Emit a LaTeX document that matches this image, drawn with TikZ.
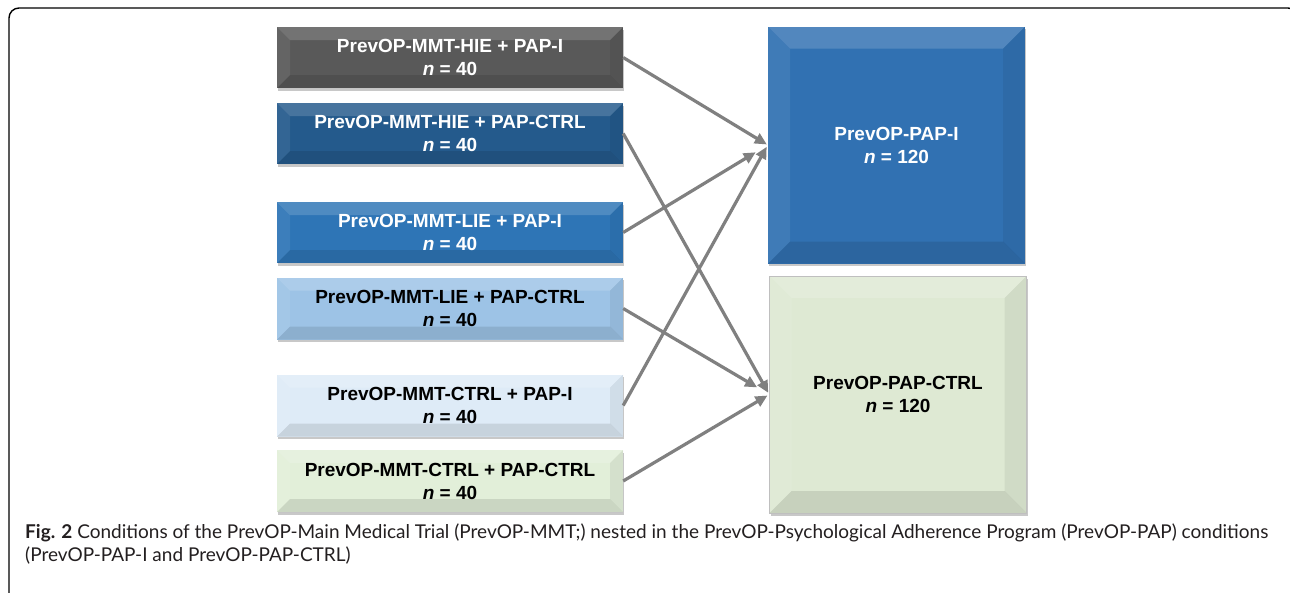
\documentclass[tikz,border=0pt]{standalone}
\usepackage{fontspec}
\setmainfont{Liberation Sans}
\newfontfamily\capfont{Lato}
\usetikzlibrary{arrows.meta,shadows}
\definecolor{cGray}{HTML}{595959}
\definecolor{cDark}{HTML}{245A8C}
\definecolor{cMid}{HTML}{2E75B6}
\definecolor{cLight}{HTML}{9DC3E6}
\definecolor{cPale}{HTML}{DEEBF7}
\definecolor{cGreen}{HTML}{E2EFD9}
\definecolor{cBig}{HTML}{3171B2}
\definecolor{cBigG}{HTML}{DEE9D3}
\definecolor{cArrow}{HTML}{808080}
\definecolor{cCap}{HTML}{231F20}
\tikzset{
  bevel/.style={path picture={
    \fill[white,opacity=.16] (path picture bounding box.north west) -- (path picture bounding box.north east)
      -- ([shift={(-#1,-#1)}]path picture bounding box.north east) -- ([shift={(#1,-#1)}]path picture bounding box.north west) -- cycle;
    \fill[white,opacity=.07] (path picture bounding box.north west) -- ([shift={(#1,-#1)}]path picture bounding box.north west)
      -- ([shift={(#1,#1)}]path picture bounding box.south west) -- (path picture bounding box.south west) -- cycle;
    \fill[black,opacity=.06] (path picture bounding box.north east) -- ([shift={(-#1,-#1)}]path picture bounding box.north east)
      -- ([shift={(-#1,#1)}]path picture bounding box.south east) -- (path picture bounding box.south east) -- cycle;
    \fill[black,opacity=.10] (path picture bounding box.south west) -- ([shift={(#1,#1)}]path picture bounding box.south west)
      -- ([shift={(-#1,#1)}]path picture bounding box.south east) -- (path picture bounding box.south east) -- cycle;
  }},
  lbox/.style={rectangle, minimum width=346pt, minimum height=61pt, inner sep=0pt, align=center,
    font=\fontsize{19}{23}\selectfont\bfseries, bevel=13pt,
    drop shadow={shadow xshift=1pt, shadow yshift=-2.5pt, opacity=.3, fill=black!70}},
  rbox/.style={rectangle, minimum width=257pt, minimum height=237pt, inner sep=0pt, align=center,
    font=\fontsize{19}{23}\selectfont\bfseries, bevel=22pt, draw=black!25, line width=.6pt,
    drop shadow={shadow xshift=1pt, shadow yshift=-2.5pt, opacity=.3, fill=black!70}},
  conn/.style={draw=cArrow, line width=3.2pt, -{Triangle[length=12pt,width=11pt]}},
  captext/.style={anchor=base west, inner sep=0pt, text=cCap, font=\capfont\fontsize{19}{23}\selectfont}
}
\begin{document}
\begin{tikzpicture}[x=1pt,y=-1pt]
\useasboundingbox (0,0) rectangle (1290,592);
\clip (0,0) rectangle (1290,592);
\fill[white] (0,0) rectangle (1290,592);
\draw[line width=1.4pt, rounded corners=10pt] (9,610) -- (9,8) -- (1298,8) -- (1298,610);

\node[lbox, fill=cGray, text=white] (b1) at (450,57.5) {PrevOP-MMT-HIE + PAP-I\\\textit{n} = 40};
\node[lbox, fill=cDark, text=white] (b2) at (450,133.5) {PrevOP-MMT-HIE + PAP-CTRL\\\textit{n} = 40};
\node[lbox, fill=cMid, text=white] (b3) at (450,232.5) {PrevOP-MMT-LIE + PAP-I\\\textit{n} = 40};
\node[lbox, fill=cLight, text=black, minimum height=62pt] (b4) at (450,308.5) {PrevOP-MMT-LIE + PAP-CTRL\\\textit{n} = 40};
\node[lbox, fill=cPale, text=black, minimum height=62pt] (b5) at (450,405.5) {PrevOP-MMT-CTRL + PAP-I\\\textit{n} = 40};
\node[lbox, fill=cGreen, text=black, minimum height=62pt] (b6) at (450,481) {PrevOP-MMT-CTRL + PAP-CTRL\\\textit{n} = 40};

\node[rbox, fill=cBig, text=white, draw=none] (r1) at (896.5,145) {PrevOP-PAP-I\\\textit{n} = 120};
\node[rbox, fill=cBigG, text=black] (r2) at (898,394.5) {PrevOP-PAP-CTRL\\\textit{n} = 120};

\draw[conn, shorten >=1pt] (b1.east) -- (r1.west);
\draw[conn, shorten >=14pt] (b3.east) -- (r1.west);
\draw[conn, shorten >=2pt] (b5.east) -- (r1.west);
\draw[conn, shorten >=2pt] (b2.east) -- (r2.west);
\draw[conn, shorten >=14pt] (b4.east) -- (r2.west);
\draw[conn, shorten >=2pt] (b6.east) -- (r2.west);

\node[captext] (cap1) at (25,538) {\textbf{Fig. 2} Conditions of the PrevOP-Main Medical Trial (PrevOP-MMT;) nested in the PrevOP-Psychological Adherence Program (PrevOP-PAP) conditions};
\node[captext] (cap2) at (25,561) {(PrevOP-PAP-I and PrevOP-PAP-CTRL)};
\end{tikzpicture}
\end{document}
